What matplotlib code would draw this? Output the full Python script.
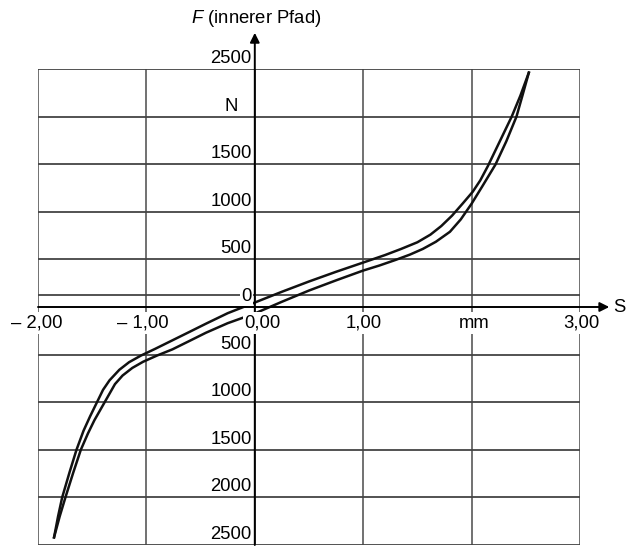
import numpy as np
import matplotlib.pyplot as plt

plt.rcParams['font.family'] = ['Liberation Sans', 'DejaVu Sans']
plt.rcParams['mathtext.fontset'] = 'custom'
plt.rcParams['mathtext.it'] = 'Liberation Sans:italic'
plt.rcParams['mathtext.rm'] = 'Liberation Sans'

# upper / left branch of the loop
s_a = [-1.852, -1.815, -1.777, -1.71, -1.645, -1.58, -1.52, -1.46, -1.40, -1.34,
       -1.25, -1.16, -1.05, -0.92, -0.76, -0.6, -0.45, -0.25, 0.0, 0.25,
       0.5, 0.75, 1.0, 1.2, 1.35, 1.5, 1.62, 1.72, 1.82, 1.92,
       2.01, 2.08, 2.15, 2.26, 2.37, 2.45, 2.528]
f_a = [-2420, -2200, -2000, -1740, -1500, -1300, -1150, -1010, -870, -770,
       -660, -580, -510, -440, -350, -260, -175, -65, 47, 160,
       268, 370, 467, 545, 610, 680, 760, 850, 960, 1090,
       1210, 1330, 1480, 1740, 2000, 2220, 2462]

# lower / right branch
s_b = [-1.852, -1.80, -1.747, -1.675, -1.605, -1.54, -1.48, -1.42, -1.36, -1.29,
       -1.22, -1.13, -1.03, -0.9, -0.76, -0.6, -0.45, -0.25, 0.0, 0.25,
       0.5, 0.75, 1.0, 1.15, 1.3, 1.43, 1.55, 1.67, 1.8, 1.9,
       2.0, 2.1, 2.22, 2.32, 2.414, 2.47, 2.528]
f_b = [-2420, -2200, -2000, -1740, -1500, -1330, -1190, -1070, -950, -810,
       -720, -640, -575, -509, -445, -355, -270, -170, -68, 55,
       173, 280, 383, 436, 495, 550, 610, 685, 790, 920,
       1085, 1270, 1496, 1740, 2000, 2225, 2462]

x_ticks = [-2, -1, 0, 1, 2, 3]
x_labels = ['\u2013 2,00', '\u2013 1,00', '0,00', '1,00', 'mm', '3,00']
x_shift = [-1, -4, 8, 0, 3, 1]

y_grid = [2500, 2000, 1500, 1000, 500, 130, -500, -1000, -1500, -2000, -2500]
y_ticks = [2500, 2000, 1500, 1000, 500, 0, -500, -1000, -1500, -2000, -2500]
y_labels = ['2500', 'N', '1500', '1000', '500', '0', '500', '1000', '1500', '2000', '2500']

fig = plt.figure(figsize=(6.3, 5.47), dpi=100)
W, H = 630, 547
ax = fig.add_axes([38 / W, 1 - 545 / H, (580 - 38) / W, (545 - 69) / H])
ax.set_xlim(-2, 3)
ax.set_ylim(-2500, 2500)
ax.axis('off')

for x in x_ticks:
    ax.axvline(x, color='#666666', lw=1.3, zorder=1)
for y in y_grid:
    ax.axhline(y, color='#444444', lw=1.3, zorder=1)

# axes with arrows
ax.annotate('', xy=(3.27, 0), xytext=(-2, 0), zorder=6, annotation_clip=False,
            arrowprops=dict(arrowstyle='-|>', lw=1.4, color='black', mutation_scale=14, shrinkA=0, shrinkB=0))
ax.annotate('', xy=(0, 2880), xytext=(0, -2500), zorder=6, annotation_clip=False,
            arrowprops=dict(arrowstyle='-|>', lw=1.4, color='black', mutation_scale=14, shrinkA=0, shrinkB=0))

ax.plot(s_a, f_a, color='#111111', lw=1.8, zorder=4, solid_joinstyle='round')
ax.plot(s_b, f_b, color='#111111', lw=1.8, zorder=4, solid_joinstyle='round')

box = dict(facecolor='white', edgecolor='none', pad=1.5)
for x, lab, dx in zip(x_ticks, x_labels, x_shift):
    ax.annotate(lab, xy=(x, 0), xytext=(dx, -16), textcoords='offset pixels',
                ha='center', va='center', fontsize=13.3, bbox=box, zorder=7,
                annotation_clip=False)

for y, lab in zip(y_ticks, y_labels):
    dx = -17 if lab == 'N' else -3
    b = dict(facecolor='white', edgecolor='none', pad=1) if lab == '0' else None
    ax.annotate(lab, xy=(0, y), xytext=(dx, 2), textcoords='offset pixels',
                ha='right', va='bottom', fontsize=13.3, bbox=b, zorder=5,
                annotation_clip=False)

ax.text(3.36, 0, 'S', ha='center', va='center', fontsize=13.3)
ax.text(0.01, 3035, '$F$ (innerer Pfad)', ha='center', va='center', fontsize=13.3)

fig.savefig('out.png', dpi=100)
